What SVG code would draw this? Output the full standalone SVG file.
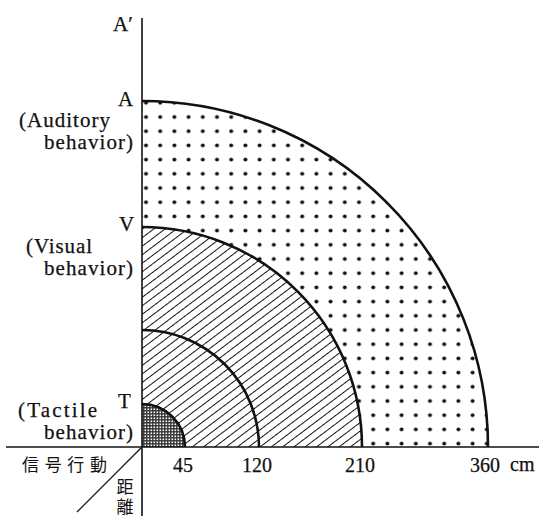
<svg xmlns="http://www.w3.org/2000/svg" width="539" height="516" viewBox="0 0 539 516">
<style>
.t{font-size:21px;fill:#111;stroke:#111;stroke-width:0.25}
.n{font-size:20px;fill:#111;stroke:#111;stroke-width:0.25}
.j{font-size:17px;fill:#111}
.arc{fill:none;stroke:#111;stroke-width:2.6}
.ax{stroke:#111;stroke-width:1.6;fill:none}
</style>
<defs>
<pattern id="dots" patternUnits="userSpaceOnUse" x="138.9" y="109.9" width="14.2" height="14.2">
<circle cx="7.1" cy="7.1" r="2" fill="#111"/>
</pattern>
<pattern id="hatch" patternUnits="userSpaceOnUse" width="6.8" height="6.8" patternTransform="rotate(-37)">
<line x1="-1" y1="3.4" x2="7.8" y2="3.4" stroke="#111" stroke-width="1"/>
</pattern>
<pattern id="cross" patternUnits="userSpaceOnUse" width="3" height="3">
<rect width="3" height="3" fill="#333"/>
<rect x="0.5" y="0.5" width="1.6" height="1.6" fill="#fff"/>
</pattern>
</defs>
<g id="auditory-zone">
<path d="M362,447 L488,447 A346,346 0 0 0 142,101 L142,227 A220,220 0 0 1 362,447 Z" fill="url(#dots)"/>
<path class="arc" d="M488,447 A346,346 0 0 0 142,101"/>
</g>
<g id="visual-zone">
<path d="M185,447 L362,447 A220,220 0 0 0 142,227 L142,404 A43,43 0 0 1 185,447 Z" fill="url(#hatch)"/>
<path class="arc" d="M362,447 A220,220 0 0 0 142,227"/>
<path class="arc" d="M259,447 A117,117 0 0 0 142,330"/>
</g>
<g id="tactile-zone">
<path d="M142,447 L185,447 A43,43 0 0 0 142,404 Z" fill="url(#cross)"/>
<path class="arc" d="M185,447 A43,43 0 0 0 142,404"/>
</g>
<g id="axes">
<line class="ax" x1="142" y1="18" x2="142" y2="516"/>
<line class="ax" x1="6" y1="447" x2="539" y2="447"/>
<line stroke="#111" stroke-width="1.2" x1="141" y1="448" x2="77" y2="512"/>
</g>
<g id="labels" font-family="Liberation Serif, Times New Roman, serif">
<text class="t" x="113" y="31">A′</text>
<text class="t" x="118" y="106">A</text>
<text class="t" x="19" y="127" textLength="91" lengthAdjust="spacing">(Auditory</text>
<text class="t" x="44" y="149" textLength="89" lengthAdjust="spacing">behavior)</text>
<text class="t" x="119" y="231">V</text>
<text class="t" x="26" y="253" textLength="66" lengthAdjust="spacing">(Visual</text>
<text class="t" x="44" y="275" textLength="89" lengthAdjust="spacing">behavior)</text>
<text class="t" x="118" y="408">T</text>
<text class="t" x="18" y="417" textLength="79" lengthAdjust="spacing">(Tactile</text>
<text class="t" x="44" y="439" textLength="89" lengthAdjust="spacing">behavior)</text>
<text class="n" x="173" y="472">45</text>
<text class="n" x="242" y="472">120</text>
<text class="n" x="345" y="472">210</text>
<text class="n" x="470" y="472">360</text>
<text class="n" x="510" y="471" font-size="15">cm</text>
</g>
<g id="labels-ja" font-family="Noto Sans CJK JP, Noto Sans CJK SC, sans-serif">
<text class="j" x="22" y="471" textLength="85" lengthAdjust="spacing">信号行動</text>
<text class="j" font-size="14" writing-mode="vertical-rl" letter-spacing="3" x="125" y="478">距離</text>
</g>
</svg>
